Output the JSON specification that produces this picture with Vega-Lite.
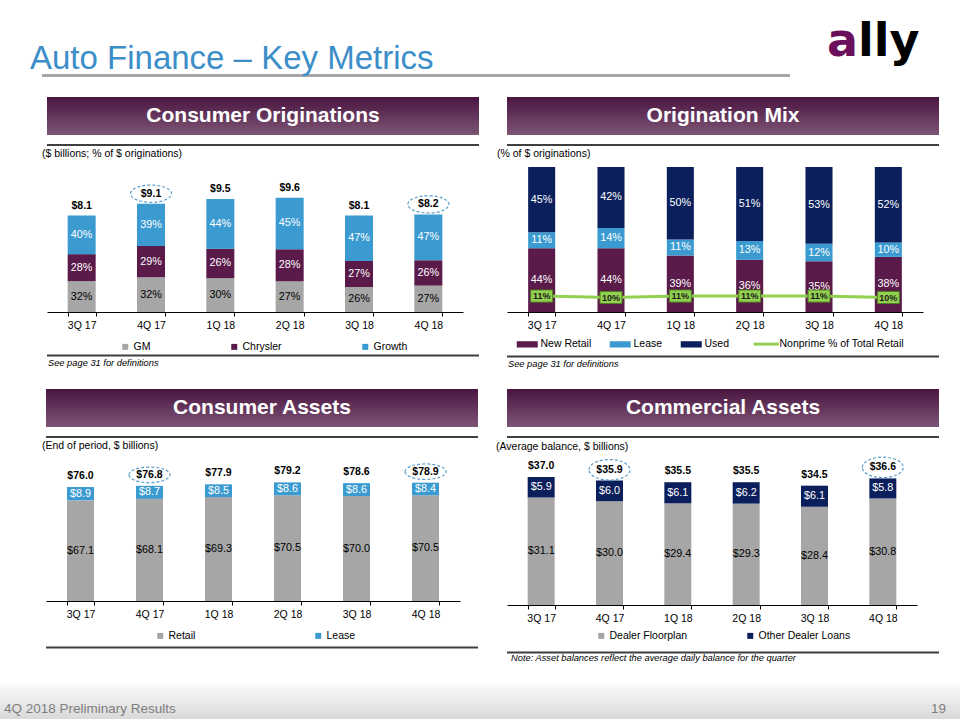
{
  "$schema": "https://vega.github.io/schema/vega-lite/v6.json",
  "background": "white",
  "padding": {"top": 19, "left": 0, "right": 0, "bottom": 0},
  "config": {
    "font": "Liberation Sans",
    "view": {"stroke": null},
    "axisX": {"domainColor": "#000", "domainWidth": 1, "tickColor": "#000", "tickSize": 4, "tickWidth": 1, "tickBand": "extent", "labelFontSize": 10.5, "labelColor": "#000", "labelPadding": 4, "labelAngle": 0, "grid": false, "labelFont": "Liberation Sans"},
    "legend": {"labelFontSize": 10.5, "labelColor": "#000", "labelFont": "Liberation Sans", "padding": 0},
    "title": {"font": "Liberation Sans", "color": "#000", "fontWeight": "normal"},
    "text": {"font": "Liberation Sans"}
  },
  "datasets": {
    "co": [
      {"q": "3Q 17", "s": "GM", "o": 1, "v": 2.592, "lab": "32%"},
      {"q": "3Q 17", "s": "Chrysler", "o": 2, "v": 2.268, "lab": "28%"},
      {"q": "3Q 17", "s": "Growth", "o": 3, "v": 3.24, "lab": "40%"},
      {"q": "4Q 17", "s": "GM", "o": 1, "v": 2.912, "lab": "32%"},
      {"q": "4Q 17", "s": "Chrysler", "o": 2, "v": 2.639, "lab": "29%"},
      {"q": "4Q 17", "s": "Growth", "o": 3, "v": 3.549, "lab": "39%"},
      {"q": "1Q 18", "s": "GM", "o": 1, "v": 2.85, "lab": "30%"},
      {"q": "1Q 18", "s": "Chrysler", "o": 2, "v": 2.47, "lab": "26%"},
      {"q": "1Q 18", "s": "Growth", "o": 3, "v": 4.18, "lab": "44%"},
      {"q": "2Q 18", "s": "GM", "o": 1, "v": 2.592, "lab": "27%"},
      {"q": "2Q 18", "s": "Chrysler", "o": 2, "v": 2.688, "lab": "28%"},
      {"q": "2Q 18", "s": "Growth", "o": 3, "v": 4.32, "lab": "45%"},
      {"q": "3Q 18", "s": "GM", "o": 1, "v": 2.106, "lab": "26%"},
      {"q": "3Q 18", "s": "Chrysler", "o": 2, "v": 2.187, "lab": "27%"},
      {"q": "3Q 18", "s": "Growth", "o": 3, "v": 3.807, "lab": "47%"},
      {"q": "4Q 18", "s": "GM", "o": 1, "v": 2.214, "lab": "27%"},
      {"q": "4Q 18", "s": "Chrysler", "o": 2, "v": 2.132, "lab": "26%"},
      {"q": "4Q 18", "s": "Growth", "o": 3, "v": 3.854, "lab": "47%"}
    ],
    "co_tot": [
      {"q": "3Q 17", "total": 8.1, "lab": "$8.1", "hl": false},
      {"q": "4Q 17", "total": 9.1, "lab": "$9.1", "hl": true},
      {"q": "1Q 18", "total": 9.5, "lab": "$9.5", "hl": false},
      {"q": "2Q 18", "total": 9.6, "lab": "$9.6", "hl": false},
      {"q": "3Q 18", "total": 8.1, "lab": "$8.1", "hl": false},
      {"q": "4Q 18", "total": 8.2, "lab": "$8.2", "hl": true}
    ],
    "om": [
      {"q": "3Q 17", "s": "New Retail", "o": 1, "v": 44, "lab": "44%"},
      {"q": "3Q 17", "s": "Lease", "o": 2, "v": 11, "lab": "11%"},
      {"q": "3Q 17", "s": "Used", "o": 3, "v": 45, "lab": "45%"},
      {"q": "4Q 17", "s": "New Retail", "o": 1, "v": 44, "lab": "44%"},
      {"q": "4Q 17", "s": "Lease", "o": 2, "v": 14, "lab": "14%"},
      {"q": "4Q 17", "s": "Used", "o": 3, "v": 42, "lab": "42%"},
      {"q": "1Q 18", "s": "New Retail", "o": 1, "v": 39, "lab": "39%"},
      {"q": "1Q 18", "s": "Lease", "o": 2, "v": 11, "lab": "11%"},
      {"q": "1Q 18", "s": "Used", "o": 3, "v": 50, "lab": "50%"},
      {"q": "2Q 18", "s": "New Retail", "o": 1, "v": 36, "lab": "36%"},
      {"q": "2Q 18", "s": "Lease", "o": 2, "v": 13, "lab": "13%"},
      {"q": "2Q 18", "s": "Used", "o": 3, "v": 51, "lab": "51%"},
      {"q": "3Q 18", "s": "New Retail", "o": 1, "v": 35, "lab": "35%"},
      {"q": "3Q 18", "s": "Lease", "o": 2, "v": 12, "lab": "12%"},
      {"q": "3Q 18", "s": "Used", "o": 3, "v": 53, "lab": "53%"},
      {"q": "4Q 18", "s": "New Retail", "o": 1, "v": 38, "lab": "38%"},
      {"q": "4Q 18", "s": "Lease", "o": 2, "v": 10, "lab": "10%"},
      {"q": "4Q 18", "s": "Used", "o": 3, "v": 52, "lab": "52%"}
    ],
    "om_np": [
      {"q": "3Q 17", "np": 11, "lab": "11%"},
      {"q": "4Q 17", "np": 10, "lab": "10%"},
      {"q": "1Q 18", "np": 11, "lab": "11%"},
      {"q": "2Q 18", "np": 11, "lab": "11%"},
      {"q": "3Q 18", "np": 11, "lab": "11%"},
      {"q": "4Q 18", "np": 10, "lab": "10%"}
    ],
    "ca": [
      {"q": "3Q 17", "s": "Retail", "o": 1, "v": 67.1, "lab": "$67.1"},
      {"q": "3Q 17", "s": "Lease", "o": 2, "v": 8.9, "lab": "$8.9"},
      {"q": "4Q 17", "s": "Retail", "o": 1, "v": 68.1, "lab": "$68.1"},
      {"q": "4Q 17", "s": "Lease", "o": 2, "v": 8.7, "lab": "$8.7"},
      {"q": "1Q 18", "s": "Retail", "o": 1, "v": 69.3, "lab": "$69.3"},
      {"q": "1Q 18", "s": "Lease", "o": 2, "v": 8.5, "lab": "$8.5"},
      {"q": "2Q 18", "s": "Retail", "o": 1, "v": 70.5, "lab": "$70.5"},
      {"q": "2Q 18", "s": "Lease", "o": 2, "v": 8.6, "lab": "$8.6"},
      {"q": "3Q 18", "s": "Retail", "o": 1, "v": 70.0, "lab": "$70.0"},
      {"q": "3Q 18", "s": "Lease", "o": 2, "v": 8.6, "lab": "$8.6"},
      {"q": "4Q 18", "s": "Retail", "o": 1, "v": 70.5, "lab": "$70.5"},
      {"q": "4Q 18", "s": "Lease", "o": 2, "v": 8.4, "lab": "$8.4"}
    ],
    "ca_tot": [
      {"q": "3Q 17", "total": 76.0, "lab": "$76.0", "hl": false},
      {"q": "4Q 17", "total": 76.8, "lab": "$76.8", "hl": true},
      {"q": "1Q 18", "total": 77.9, "lab": "$77.9", "hl": false},
      {"q": "2Q 18", "total": 79.2, "lab": "$79.2", "hl": false},
      {"q": "3Q 18", "total": 78.6, "lab": "$78.6", "hl": false},
      {"q": "4Q 18", "total": 78.9, "lab": "$78.9", "hl": true}
    ],
    "cm": [
      {"q": "3Q 17", "s": "Dealer Floorplan", "o": 1, "v": 31.1, "lab": "$31.1"},
      {"q": "3Q 17", "s": "Other Dealer Loans", "o": 2, "v": 5.9, "lab": "$5.9"},
      {"q": "4Q 17", "s": "Dealer Floorplan", "o": 1, "v": 30.0, "lab": "$30.0"},
      {"q": "4Q 17", "s": "Other Dealer Loans", "o": 2, "v": 6.0, "lab": "$6.0"},
      {"q": "1Q 18", "s": "Dealer Floorplan", "o": 1, "v": 29.4, "lab": "$29.4"},
      {"q": "1Q 18", "s": "Other Dealer Loans", "o": 2, "v": 6.1, "lab": "$6.1"},
      {"q": "2Q 18", "s": "Dealer Floorplan", "o": 1, "v": 29.3, "lab": "$29.3"},
      {"q": "2Q 18", "s": "Other Dealer Loans", "o": 2, "v": 6.2, "lab": "$6.2"},
      {"q": "3Q 18", "s": "Dealer Floorplan", "o": 1, "v": 28.4, "lab": "$28.4"},
      {"q": "3Q 18", "s": "Other Dealer Loans", "o": 2, "v": 6.1, "lab": "$6.1"},
      {"q": "4Q 18", "s": "Dealer Floorplan", "o": 1, "v": 30.8, "lab": "$30.8"},
      {"q": "4Q 18", "s": "Other Dealer Loans", "o": 2, "v": 5.8, "lab": "$5.8"}
    ],
    "cm_tot": [
      {"q": "3Q 17", "total": 37.0, "lab": "$37.0", "hl": false},
      {"q": "4Q 17", "total": 35.9, "lab": "$35.9", "hl": true},
      {"q": "1Q 18", "total": 35.5, "lab": "$35.5", "hl": false},
      {"q": "2Q 18", "total": 35.5, "lab": "$35.5", "hl": false},
      {"q": "3Q 18", "total": 34.5, "lab": "$34.5", "hl": false},
      {"q": "4Q 18", "total": 36.6, "lab": "$36.6", "hl": true}
    ]
  },
  "spacing": 20,
  "resolve": {"scale": {"color": "independent", "x": "independent", "y": "independent"}, "legend": {"color": "independent"}},
  "vconcat": [
    {
      "hconcat": [
        {"width": 24, "height": 1, "data": {"values": []}, "mark": "text"},
        {
          "width": 748, "height": 3,
          "data": {"values": [{}]},
          "mark": {"type": "rect", "fill": "#a6a6a6"},
          "encoding": {},
          "title": {"text": "Auto Finance – Key Metrics", "anchor": "start", "dx": -12, "offset": -28, "baseline": "alphabetic", "fontSize": 33, "fontWeight": "normal", "color": "#3b8ec8"}
        },
        {
          "width": 100, "height": 3,
          "data": {"values": [{"a": "a", "b": "lly"}]},
          "layer": [
            {"mark": {"type": "text", "align": "right", "baseline": "alphabetic", "dy": -19.5, "font": "DejaVu Sans", "fontWeight": "bold", "fontSize": 46, "fill": "#6a0f5c"}, "encoding": {"text": {"field": "a"}}},
            {"mark": {"type": "text", "align": "left", "baseline": "alphabetic", "dy": -19.5, "font": "DejaVu Sans", "fontWeight": "bold", "fontSize": 46, "fill": "#000000"}, "encoding": {"text": {"field": "b"}}}
          ]
        }
      ],
      "spacing": 18,
      "bounds": "flush"
    },
    {
      "spacing": 18,
      "resolve": {"scale": {"color": "independent", "x": "independent", "y": "independent"}, "legend": {"color": "independent"}},
      "hconcat": [
        {"width": 24, "height": 1, "data": {"values": []}, "mark": "text"},
        {
          "spacing": 3,
          "resolve": {"scale": {"color": "independent", "x": "independent", "y": "independent"}, "legend": {"color": "independent"}},
          "vconcat": [
            {
              "spacing": 9, "bounds": "flush",
              "vconcat": [
                {"width": 432, "height": 38, "data": {"values": [{"t": "Consumer Originations"}]},
                 "layer": [
                   {"mark": {"type": "rect", "fill": {"gradient": "linear", "x1": 0, "y1": 0, "x2": 0, "y2": 1, "stops": [{"offset": 0, "color": "#4a1541"}, {"offset": 1, "color": "#7d5575"}]}}, "encoding": {}},
                   {"mark": {"type": "text", "fill": "#ffffff", "fontSize": 21, "fontWeight": "bold", "baseline": "middle"}, "encoding": {"text": {"field": "t"}}}
                 ]},
                {"width": 432, "height": 2, "data": {"values": [{}]}, "mark": {"type": "rect", "fill": "#3f3f3f"}, "encoding": {}}
              ]
            },
            {
              "spacing": 1.5,
              "resolve": {"scale": {"color": "independent", "x": "independent", "y": "independent"}, "legend": {"color": "independent"}},
              "vconcat": [
                {
                  "width": 416, "height": 150,
                  "title": {"text": "($ billions; % of $ originations)", "anchor": "start", "dx": -5, "offset": -5.5, "baseline": "alphabetic", "fontSize": 10.5, "fontWeight": "normal", "color": "#000"},
                  "encoding": {"x": {"field": "q", "type": "nominal", "scale": {"domain": ["3Q 17", "4Q 17", "1Q 18", "2Q 18", "3Q 18", "4Q 18"], "paddingInner": 0.596, "paddingOuter": 0.298}, "axis": {"title": null}}},
                  "layer": [
                    {"data": {"name": "co"}, "mark": {"type": "bar"},
                     "encoding": {
                       "y": {"field": "v", "type": "quantitative", "stack": "zero", "scale": {"domain": [0, 12.6]}, "axis": null},
                       "color": {"field": "s", "type": "nominal", "scale": {"domain": ["GM", "Chrysler", "Growth"], "range": ["#a6a6a6", "#5a1a4a", "#3b9bd1"]},
                         "legend": {"title": null, "orient": "none", "legendX": 73, "legendY": 179.5, "direction": "horizontal", "symbolType": "square", "symbolSize": 36, "symbolStrokeWidth": 0, "labelOffset": 3, "columnPadding": 78}},
                       "order": {"field": "o", "type": "quantitative"}
                     }},
                    {"data": {"name": "co"},
                     "transform": [{"stack": "v", "groupby": ["q"], "sort": [{"field": "o", "order": "ascending"}], "as": ["v0", "v1"]}, {"calculate": "(datum.v0 + datum.v1) / 2", "as": "mid"}],
                     "mark": {"type": "text", "fontSize": 10.8},
                     "encoding": {
                       "y": {"field": "mid", "type": "quantitative", "scale": {"domain": [0, 12.6]}, "axis": null},
                       "text": {"field": "lab"},
                       "fill": {"condition": {"test": "datum.s === 'GM'", "value": "#000000"}, "value": "#ffffff"}
                     }},
                    {"data": {"name": "co_tot"}, "mark": {"type": "text", "fontSize": 10.5, "fontWeight": "bold", "dy": -10, "fill": "#000"},
                     "encoding": {"y": {"field": "total", "type": "quantitative", "scale": {"domain": [0, 12.6]}, "axis": null}, "text": {"field": "lab"}}},
                    {"data": {"name": "co_tot"}, "transform": [{"filter": "datum.hl"}],
                     "mark": {"type": "point", "shape": "M-1,0A1,0.42,0,1,1,1,0A1,0.42,0,1,1,-1,0Z", "size": 1681, "filled": false, "color": "#5a9fc9", "stroke": "#5a9fc9", "strokeWidth": 1.2, "strokeDash": [3, 2], "opacity": 1, "yOffset": -10},
                     "encoding": {"y": {"field": "total", "type": "quantitative", "scale": {"domain": [0, 12.6]}, "axis": null}}}
                  ]
                },
                {"width": 432, "height": 2, "data": {"values": [{}]}, "mark": {"type": "rect", "fill": "#3f3f3f"}, "encoding": {},
                 "title": {"text": "See page 31 for definitions", "orient": "bottom", "anchor": "start", "dx": 1, "offset": 2, "baseline": "top", "fontSize": 9.3, "fontStyle": "italic", "fontWeight": "normal", "color": "#000"}}
              ]
            }
          ]
        },
        {
          "spacing": 3,
          "resolve": {"scale": {"color": "independent", "x": "independent", "y": "independent"}, "legend": {"color": "independent"}},
          "vconcat": [
            {
              "spacing": 9, "bounds": "flush",
              "vconcat": [
                {"width": 432, "height": 38, "data": {"values": [{"t": "Origination Mix"}]},
                 "layer": [
                   {"mark": {"type": "rect", "fill": {"gradient": "linear", "x1": 0, "y1": 0, "x2": 0, "y2": 1, "stops": [{"offset": 0, "color": "#4a1541"}, {"offset": 1, "color": "#7d5575"}]}}, "encoding": {}},
                   {"mark": {"type": "text", "fill": "#ffffff", "fontSize": 21, "fontWeight": "bold", "baseline": "middle"}, "encoding": {"text": {"field": "t"}}}
                 ]},
                {"width": 432, "height": 2, "data": {"values": [{}]}, "mark": {"type": "rect", "fill": "#3f3f3f"}, "encoding": {}}
              ]
            },
            {
              "spacing": 4.5,
              "resolve": {"scale": {"color": "independent", "x": "independent", "y": "independent"}, "legend": {"color": "independent"}},
              "vconcat": [
                {
                  "width": 416, "height": 145,
                  "title": {"text": "(% of $ originations)", "anchor": "start", "dx": -10, "offset": -0.5, "baseline": "alphabetic", "fontSize": 10.5, "fontWeight": "normal", "color": "#000"},
                  "encoding": {"x": {"field": "q", "type": "nominal", "scale": {"domain": ["3Q 17", "4Q 17", "1Q 18", "2Q 18", "3Q 18", "4Q 18"], "paddingInner": 0.61, "paddingOuter": 0.305}, "axis": {"title": null}}},
                  "layer": [
                    {"data": {"name": "om"}, "mark": {"type": "bar"},
                     "encoding": {
                       "y": {"field": "v", "type": "quantitative", "stack": "zero", "scale": {"domain": [0, 100]}, "axis": null},
                       "color": {"field": "s", "type": "nominal", "scale": {"domain": ["New Retail", "Lease", "Used", "Nonprime % of Total Retail"], "range": ["#5a1a4a", "#3b9bd1", "#0b1f5c", "#92d050"]},
                         "legend": {"title": null, "orient": "none", "legendX": 15, "legendY": 171.5, "direction": "horizontal", "symbolType": "M-1,-0.3H1V0.3H-1Z", "symbolSize": 441, "labelOffset": 8, "columnPadding": 17,
                           "encode": {"symbols": {"update": {
                             "shape": {"signal": "datum.label === 'Nonprime % of Total Retail' ? 'M-1.2,0H1.2' : 'M-1,-0.3H1V0.3H-1Z'"},
                             "fill": {"signal": "datum.label === 'New Retail' ? '#5a1a4a' : datum.label === 'Lease' ? '#3b9bd1' : datum.label === 'Used' ? '#0b1f5c' : 'transparent'"},
                             "stroke": {"signal": "datum.label === 'Nonprime % of Total Retail' ? '#92d050' : 'transparent'"},
                             "strokeWidth": {"signal": "datum.label === 'Nonprime % of Total Retail' ? 3 : 0"},
                             "opacity": {"value": 1}
                           }}}}},
                       "order": {"field": "o", "type": "quantitative"}
                     }},
                    {"data": {"name": "om"},
                     "transform": [{"stack": "v", "groupby": ["q"], "sort": [{"field": "o", "order": "ascending"}], "as": ["v0", "v1"]}, {"calculate": "(datum.v0 + datum.v1) / 2", "as": "mid"}],
                     "mark": {"type": "text", "fontSize": 10.8, "fill": "#ffffff"},
                     "encoding": {
                       "y": {"field": "mid", "type": "quantitative", "scale": {"domain": [0, 100]}, "axis": null},
                       "text": {"field": "lab"}
                     }},
                    {"data": {"name": "om_np"}, "mark": {"type": "line", "strokeWidth": 3},
                     "encoding": {"y": {"field": "np", "type": "quantitative", "scale": {"domain": [0, 100]}, "axis": null}, "color": {"datum": "Nonprime % of Total Retail", "type": "nominal"}}},
                    {"data": {"name": "om_np"}, "mark": {"type": "point", "shape": "M-1,-0.55H1V0.55H-1Z", "size": 484, "filled": true, "fill": "#92d050", "stroke": "#4f7f23", "strokeWidth": 1, "opacity": 1},
                     "encoding": {"y": {"field": "np", "type": "quantitative", "scale": {"domain": [0, 100]}, "axis": null}}},
                    {"data": {"name": "om_np"}, "mark": {"type": "text", "fontSize": 9, "fontWeight": "bold", "fill": "#1a1a1a"},
                     "encoding": {"y": {"field": "np", "type": "quantitative", "scale": {"domain": [0, 100]}, "axis": null}, "text": {"field": "lab"}}}
                  ]
                },
                {"width": 432, "height": 2, "data": {"values": [{}]}, "mark": {"type": "rect", "fill": "#3f3f3f"}, "encoding": {},
                 "title": {"text": "See page 31 for definitions", "orient": "bottom", "anchor": "start", "dx": 1, "offset": 2, "baseline": "top", "fontSize": 9.3, "fontStyle": "italic", "fontWeight": "normal", "color": "#000"}}
              ]
            }
          ]
        }
      ]
    },
    {
      "spacing": 18,
      "resolve": {"scale": {"color": "independent", "x": "independent", "y": "independent"}, "legend": {"color": "independent"}},
      "hconcat": [
        {"width": 24, "height": 1, "data": {"values": []}, "mark": "text"},
        {
          "spacing": 3,
          "resolve": {"scale": {"color": "independent", "x": "independent", "y": "independent"}, "legend": {"color": "independent"}},
          "vconcat": [
            {
              "spacing": 9, "bounds": "flush",
              "vconcat": [
                {"width": 432, "height": 38, "data": {"values": [{"t": "Consumer Assets"}]},
                 "layer": [
                   {"mark": {"type": "rect", "fill": {"gradient": "linear", "x1": 0, "y1": 0, "x2": 0, "y2": 1, "stops": [{"offset": 0, "color": "#4a1541"}, {"offset": 1, "color": "#7d5575"}]}}, "encoding": {}},
                   {"mark": {"type": "text", "fill": "#ffffff", "fontSize": 21, "fontWeight": "bold", "baseline": "middle"}, "encoding": {"text": {"field": "t"}}}
                 ]},
                {"width": 432, "height": 2, "data": {"values": [{}]}, "mark": {"type": "rect", "fill": "#3f3f3f"}, "encoding": {}}
              ]
            },
            {
              "spacing": 4.5,
              "resolve": {"scale": {"color": "independent", "x": "independent", "y": "independent"}, "legend": {"color": "independent"}},
              "vconcat": [
                {
                  "width": 414, "height": 142,
                  "title": {"text": "(End of period, $ billions)", "anchor": "start", "dx": -4, "offset": -0.5, "baseline": "alphabetic", "fontSize": 10.5, "fontWeight": "normal", "color": "#000"},
                  "encoding": {"x": {"field": "q", "type": "nominal", "scale": {"domain": ["3Q 17", "4Q 17", "1Q 18", "2Q 18", "3Q 18", "4Q 18"], "paddingInner": 0.609, "paddingOuter": 0.3045}, "axis": {"title": null}}},
                  "layer": [
                    {"data": {"name": "ca"}, "mark": {"type": "bar"},
                     "encoding": {
                       "y": {"field": "v", "type": "quantitative", "stack": "zero", "scale": {"domain": [0, 94.7]}, "axis": null},
                       "color": {"field": "s", "type": "nominal", "scale": {"domain": ["Retail", "Lease"], "range": ["#a6a6a6", "#3b9bd1"]},
                         "legend": {"title": null, "orient": "none", "legendX": 109, "legendY": 171.5, "direction": "horizontal", "symbolType": "square", "symbolSize": 36, "symbolStrokeWidth": 0, "labelOffset": 3, "columnPadding": 117}},
                       "order": {"field": "o", "type": "quantitative"}
                     }},
                    {"data": {"name": "ca"},
                     "transform": [{"stack": "v", "groupby": ["q"], "sort": [{"field": "o", "order": "ascending"}], "as": ["v0", "v1"]}, {"calculate": "(datum.v0 + datum.v1) / 2", "as": "mid"}],
                     "mark": {"type": "text", "fontSize": 10.8},
                     "encoding": {
                       "y": {"field": "mid", "type": "quantitative", "scale": {"domain": [0, 94.7]}, "axis": null},
                       "text": {"field": "lab"},
                       "fill": {"condition": {"test": "datum.s === 'Retail'", "value": "#000000"}, "value": "#ffffff"}
                     }},
                    {"data": {"name": "ca_tot"}, "mark": {"type": "text", "fontSize": 10.5, "fontWeight": "bold", "dy": -11, "fill": "#000"},
                     "encoding": {"y": {"field": "total", "type": "quantitative", "scale": {"domain": [0, 94.7]}, "axis": null}, "text": {"field": "lab"}}},
                    {"data": {"name": "ca_tot"}, "transform": [{"filter": "datum.hl"}],
                     "mark": {"type": "point", "shape": "M-1,0A1,0.38,0,1,1,1,0A1,0.38,0,1,1,-1,0Z", "size": 1681, "filled": false, "color": "#5a9fc9", "stroke": "#5a9fc9", "strokeWidth": 1.2, "strokeDash": [3, 2], "opacity": 1, "yOffset": -11},
                     "encoding": {"y": {"field": "total", "type": "quantitative", "scale": {"domain": [0, 94.7]}, "axis": null}}}
                  ]
                },
                {"width": 432, "height": 2, "data": {"values": [{}]}, "mark": {"type": "rect", "fill": "#3f3f3f"}, "encoding": {}}
              ]
            }
          ]
        },
        {
          "spacing": 3,
          "resolve": {"scale": {"color": "independent", "x": "independent", "y": "independent"}, "legend": {"color": "independent"}},
          "vconcat": [
            {
              "spacing": 9, "bounds": "flush",
              "vconcat": [
                {"width": 432, "height": 38, "data": {"values": [{"t": "Commercial Assets"}]},
                 "layer": [
                   {"mark": {"type": "rect", "fill": {"gradient": "linear", "x1": 0, "y1": 0, "x2": 0, "y2": 1, "stops": [{"offset": 0, "color": "#4a1541"}, {"offset": 1, "color": "#7d5575"}]}}, "encoding": {}},
                   {"mark": {"type": "text", "fill": "#ffffff", "fontSize": 21, "fontWeight": "bold", "baseline": "middle"}, "encoding": {"text": {"field": "t"}}}
                 ]},
                {"width": 432, "height": 2, "data": {"values": [{}]}, "mark": {"type": "rect", "fill": "#3f3f3f"}, "encoding": {}}
              ]
            },
            {
              "spacing": 9.5,
              "resolve": {"scale": {"color": "independent", "x": "independent", "y": "independent"}, "legend": {"color": "independent"}},
              "vconcat": [
                {
                  "width": 410, "height": 147,
                  "title": {"text": "(Average balance, $ billions)", "anchor": "start", "dx": -11, "offset": -5.5, "baseline": "alphabetic", "fontSize": 10.5, "fontWeight": "normal", "color": "#000"},
                  "encoding": {"x": {"field": "q", "type": "nominal", "scale": {"domain": ["3Q 17", "4Q 17", "1Q 18", "2Q 18", "3Q 18", "4Q 18"], "paddingInner": 0.605, "paddingOuter": 0.3025}, "axis": {"title": null}}},
                  "layer": [
                    {"data": {"name": "cm"}, "mark": {"type": "bar"},
                     "encoding": {
                       "y": {"field": "v", "type": "quantitative", "stack": "zero", "scale": {"domain": [0, 42.5]}, "axis": null},
                       "color": {"field": "s", "type": "nominal", "scale": {"domain": ["Dealer Floorplan", "Other Dealer Loans"], "range": ["#a6a6a6", "#0b1f5c"]},
                         "legend": {"title": null, "orient": "none", "legendX": 89, "legendY": 172.5, "direction": "horizontal", "symbolType": "square", "symbolSize": 36, "symbolStrokeWidth": 0, "labelOffset": 3, "columnPadding": 57}},
                       "order": {"field": "o", "type": "quantitative"}
                     }},
                    {"data": {"name": "cm"},
                     "transform": [{"stack": "v", "groupby": ["q"], "sort": [{"field": "o", "order": "ascending"}], "as": ["v0", "v1"]}, {"calculate": "(datum.v0 + datum.v1) / 2", "as": "mid"}],
                     "mark": {"type": "text", "fontSize": 10.8},
                     "encoding": {
                       "y": {"field": "mid", "type": "quantitative", "scale": {"domain": [0, 42.5]}, "axis": null},
                       "text": {"field": "lab"},
                       "fill": {"condition": {"test": "datum.s === 'Dealer Floorplan'", "value": "#000000"}, "value": "#ffffff"}
                     }},
                    {"data": {"name": "cm_tot"}, "mark": {"type": "text", "fontSize": 10.5, "fontWeight": "bold", "dy": -11, "fill": "#000"},
                     "encoding": {"y": {"field": "total", "type": "quantitative", "scale": {"domain": [0, 42.5]}, "axis": null}, "text": {"field": "lab"}}},
                    {"data": {"name": "cm_tot"}, "transform": [{"filter": "datum.hl"}],
                     "mark": {"type": "point", "shape": "M-1,0A1,0.5,0,1,1,1,0A1,0.5,0,1,1,-1,0Z", "size": 1681, "filled": false, "color": "#5a9fc9", "stroke": "#5a9fc9", "strokeWidth": 1.2, "strokeDash": [3, 2], "opacity": 1, "yOffset": -11},
                     "encoding": {"y": {"field": "total", "type": "quantitative", "scale": {"domain": [0, 42.5]}, "axis": null}}}
                  ]
                },
                {"width": 432, "height": 2, "data": {"values": [{}]}, "mark": {"type": "rect", "fill": "#3f3f3f"}, "encoding": {},
                 "title": {"text": "Note: Asset balances reflect the average daily balance for the quarter", "orient": "bottom", "anchor": "start", "dx": 4, "offset": 0, "baseline": "top", "fontSize": 9.3, "fontStyle": "italic", "fontWeight": "normal", "color": "#000"}}
              ]
            }
          ]
        }
      ]
    },
    {
      "width": 960, "height": 36,
      "data": {"values": [{"side": "l", "t": "4Q 2018 Preliminary Results"}, {"side": "r", "t": "19"}]},
      "encoding": {"x": {"field": "side", "type": "nominal", "scale": {"type": "point", "domain": ["l", "r"], "padding": 0}, "axis": null}},
      "layer": [
        {"data": {"values": [{}]}, "mark": {"type": "rect", "fill": {"gradient": "linear", "x1": 0, "y1": 0, "x2": 0, "y2": 1, "stops": [{"offset": 0, "color": "#fbfbfb"}, {"offset": 1, "color": "#d9d9d9"}]}}, "encoding": {"x": null}},
        {"transform": [{"filter": "datum.side === 'l'"}], "mark": {"type": "text", "align": "left", "baseline": "middle", "dx": 4, "dy": 8, "fontSize": 13.5, "fill": "#7f7f7f"}, "encoding": {"text": {"field": "t"}}},
        {"transform": [{"filter": "datum.side === 'r'"}], "mark": {"type": "text", "align": "right", "baseline": "middle", "dx": -14, "dy": 8, "fontSize": 13.5, "fill": "#7f7f7f"}, "encoding": {"text": {"field": "t"}}}
      ]
    }
  ]
}
